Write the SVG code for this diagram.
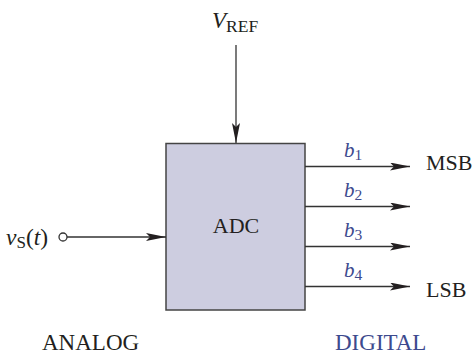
<svg xmlns="http://www.w3.org/2000/svg" width="475" height="356" viewBox="0 0 475 356">
<style>
text{font-family:"Liberation Serif","Times New Roman",serif;fill:#231f20}
.blue{fill:#3d4a8e}
.ln{stroke:#333;stroke-width:1.3;fill:none}
.it{font-style:italic}
</style>
<defs>
<marker id="ah" markerWidth="20" markerHeight="8" refX="20" refY="4" orient="auto" markerUnits="userSpaceOnUse">
<path d="M0,0 L20,4 L0,8 L4,4 Z" fill="#231f20"/>
</marker>
</defs>
<g id="adc">
<rect x="166" y="143.5" width="139" height="166.5" fill="#cdcde0" stroke="#444" stroke-width="1.5"/>
<text x="236" y="233" font-size="22" text-anchor="middle">ADC</text>
</g>
<g id="vref">
<text x="212" y="28" font-size="23" class="it">V<tspan font-style="normal" font-size="17.5" dy="4">REF</tspan></text>
</g>
<g id="vs">
<text x="6" y="245" font-size="23.5"><tspan class="it">v</tspan><tspan font-size="17" dy="3">S</tspan><tspan dy="-3">(</tspan><tspan class="it">t</tspan>)</text>
<circle cx="63" cy="237" r="4" fill="#fff" stroke="#333" stroke-width="1.3"/>
</g>
<g id="outputs">
<text x="344" y="157" font-size="21" class="blue it">b<tspan font-style="normal" font-size="15.5" dy="3">1</tspan></text>
<text x="344" y="197" font-size="21" class="blue it">b<tspan font-style="normal" font-size="15.5" dy="3">2</tspan></text>
<text x="344" y="237" font-size="21" class="blue it">b<tspan font-style="normal" font-size="15.5" dy="3">3</tspan></text>
<text x="344" y="277" font-size="21" class="blue it">b<tspan font-style="normal" font-size="15.5" dy="3">4</tspan></text>
<text x="426" y="170" font-size="22">MSB</text>
<text x="426" y="297" font-size="22">LSB</text>
</g>
<g id="labels">
<text x="42" y="350" font-size="23">ANALOG</text>
<text x="335" y="350" font-size="23" class="blue">DIGITAL</text>
</g>
<g id="connectors">
<line class="ln" x1="236" y1="45" x2="236" y2="143" marker-end="url(#ah)"/>
<line class="ln" x1="67" y1="237" x2="166" y2="237" marker-end="url(#ah)"/>
<line class="ln" x1="305" y1="166.5" x2="410" y2="166.5" marker-end="url(#ah)"/>
<line class="ln" x1="305" y1="206.5" x2="410" y2="206.5" marker-end="url(#ah)"/>
<line class="ln" x1="305" y1="246.5" x2="410" y2="246.5" marker-end="url(#ah)"/>
<line class="ln" x1="305" y1="286.5" x2="410" y2="286.5" marker-end="url(#ah)"/>
</g>
</svg>
